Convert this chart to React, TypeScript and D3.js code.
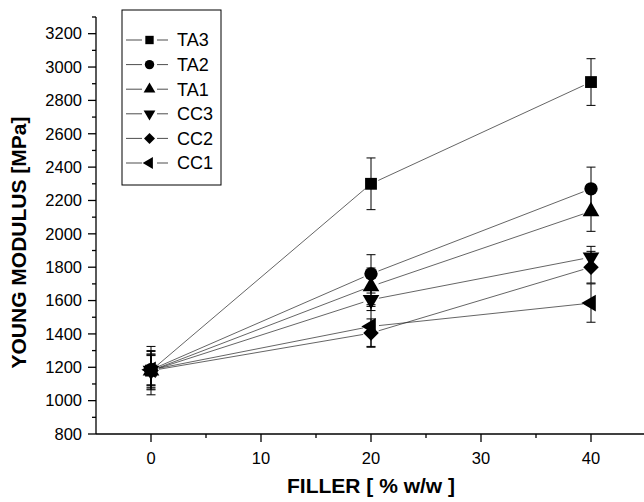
import React from 'react';
import * as d3 from 'd3';

// filler content (% w/w)
const fillers = [0, 20, 40];

const seriesNames = ['TA3', 'TA2', 'TA1', 'CC3', 'CC2', 'CC1'];

// young modulus [MPa]
const ta3 = [1180, 2300, 2910];
const ta2 = [1185, 1760, 2270];
const ta1 = [1180, 1685, 2135];
const cc3 = [1180, 1605, 1860];
const cc2 = [1180, 1405, 1800];
const cc1 = [1185, 1445, 1585];

// standard deviations
const ta3Err = [145, 155, 140];
const ta2Err = [115, 115, 130];
const ta1Err = [90, 110, 120];
const cc3Err = [100, 65, 65];
const cc2Err = [115, 85, 95];
const cc1Err = [90, 120, 115];

const yTicks = [800, 1000, 1200, 1400, 1600, 1800, 2000, 2200, 2400, 2600, 2800, 3000, 3200];
const yMinor = [900, 1100, 1300, 1500, 1700, 1900, 2100, 2300, 2500, 2700, 2900, 3100, 3300];
const xTicks = [0, 10, 20, 30, 40];
const xMinor = [5, 15, 25, 35];

const values = [ta3, ta2, ta1, cc3, cc2, cc1];
const errors = [ta3Err, ta2Err, ta1Err, cc3Err, cc2Err, cc1Err];

const FONT = '"Liberation Sans", Arial, Helvetica, sans-serif';

// symbol type + rotation for each series
const symbolFor = (i: number, size: number) => {
  const shapes: [d3.SymbolType, number][] = [
    [d3.symbolSquare, 0],
    [d3.symbolCircle, 0],
    [d3.symbolTriangle, 0],
    [d3.symbolTriangle, 180],
    [d3.symbolSquare, 45],
    [d3.symbolTriangle, -90],
  ];
  const [type, rot] = shapes[i];
  return { d: d3.symbol().type(type).size(size)() as string, rot };
};

const App = () => {
  const width = 644;
  const height = 502;

  const x = d3.scaleLinear().domain([-5, 45]).range([96, 646]);
  const y = d3.scaleLinear().domain([800, 3300]).range([434, 17]);

  const data = values.map((vals, i) =>
    fillers.map((f, j) => ({ x: f, y: vals[j], e: errors[i][j] }))
  );

  const gap = 8;
  const segments: { x1: number; y1: number; x2: number; y2: number }[] = [];
  data.forEach(pts => {
    for (let k = 0; k < pts.length - 1; k++) {
      const ax = x(pts[k].x), ay = y(pts[k].y);
      const bx = x(pts[k + 1].x), by = y(pts[k + 1].y);
      const len = Math.hypot(bx - ax, by - ay);
      const ux = (bx - ax) / len, uy = (by - ay) / len;
      segments.push({ x1: ax + ux * gap, y1: ay + uy * gap, x2: bx - ux * gap, y2: by - uy * gap });
    }
  });

  const legendY = d3.scalePoint().domain(seriesNames).range([40, 163]);

  return (
    <svg width={width} height={height} style={{ position: 'absolute', left: 0, top: 0, background: '#fff' }}>
      <rect width={width} height={height} fill="#fff" />

      {/* lines */}
      <g stroke="#222" strokeWidth={0.7} fill="none">
        {segments.map((s, i) => (
          <line key={i} x1={s.x1} y1={s.y1} x2={s.x2} y2={s.y2} />
        ))}
      </g>

      {/* error bars */}
      <g stroke="#000" strokeWidth={1}>
        {data.flat().map((p, i) => {
          const cx = x(p.x);
          return (
            <g key={i}>
              <line x1={cx} x2={cx} y1={y(p.y - p.e)} y2={y(p.y + p.e)} />
              <line x1={cx - 4.5} x2={cx + 4.5} y1={y(p.y - p.e)} y2={y(p.y - p.e)} />
              <line x1={cx - 4.5} x2={cx + 4.5} y1={y(p.y + p.e)} y2={y(p.y + p.e)} />
            </g>
          );
        })}
      </g>

      {/* markers */}
      <g fill="#000">
        {data.map((pts, i) =>
          pts.map((p, j) => {
            const sym = symbolFor(i, i < 2 ? 140 : 120);
            return (
              <path key={`${i}-${j}`} d={sym.d}
                transform={`translate(${x(p.x)},${y(p.y)}) rotate(${sym.rot})`} />
            );
          })
        )}
      </g>

      {/* y axis */}
      <g stroke="#000" strokeWidth={1.3}>
        <line x1={96} x2={96} y1={y(3300)} y2={y(800)} />
        {yTicks.map(t => <line key={t} x1={88} x2={96} y1={y(t)} y2={y(t)} />)}
        {yMinor.map(t => <line key={t} x1={92} x2={96} y1={y(t)} y2={y(t)} />)}
      </g>
      <g fontFamily={FONT} fontSize={16.5} textAnchor="end">
        {yTicks.map(t => (
          <text key={t} x={82} y={y(t)} dy="0.35em">{t}</text>
        ))}
      </g>

      {/* x axis */}
      <g stroke="#000" strokeWidth={1.3}>
        <line x1={96} x2={646} y1={434} y2={434} />
        {xTicks.map(t => <line key={t} x1={x(t)} x2={x(t)} y1={434} y2={442} />)}
        {xMinor.map(t => <line key={t} x1={x(t)} x2={x(t)} y1={434} y2={438} />)}
      </g>
      <g fontFamily={FONT} fontSize={16.5} textAnchor="middle">
        {xTicks.map(t => (
          <text key={t} x={x(t)} y={464}>{t}</text>
        ))}
      </g>

      {/* axis titles */}
      <text x={371} y={493} fontFamily={FONT} fontSize={21} fontWeight="bold" textAnchor="middle">
        FILLER [ % w/w ]
      </text>
      <text transform={`translate(26,${(108 + 377) / 2}) rotate(-90)`} fontFamily={FONT} fontSize={21}
        fontWeight="bold" textAnchor="middle">
        YOUNG MODULUS [MPa]
      </text>

      {/* legend */}
      <rect x={122} y={10} width={99} height={175} fill="#fff" stroke="#000" strokeWidth={1} />
      {seriesNames.map((name, i) => {
        const ly = legendY(name) as number;
        const sym = symbolFor(i, i < 2 ? 70 : 60);
        return (
          <g key={name}>
            <line x1={126} x2={142} y1={ly} y2={ly} stroke="#000" strokeWidth={0.7} />
            <line x1={157} x2={168} y1={ly} y2={ly} stroke="#000" strokeWidth={0.7} />
            <path d={sym.d} transform={`translate(149.5,${ly}) rotate(${sym.rot})`} fill="#000" />
            <text x={177} y={ly} dy="0.36em" fontFamily={FONT} fontSize={18}>{name}</text>
          </g>
        );
      })}
    </svg>
  );
};

export default App;
